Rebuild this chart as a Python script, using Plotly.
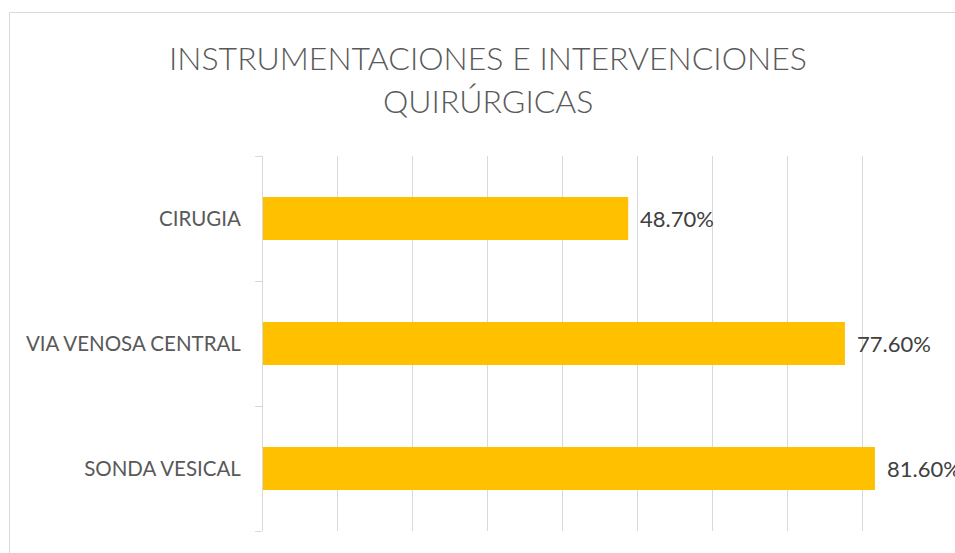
import plotly.graph_objects as go

categories = ["SONDA VESICAL", "VIA VENOSA CENTRAL", "CIRUGIA"]
values = [0.816, 0.776, 0.487]
title_lines = ["INSTRUMENTACIONES E INTERVENCIONES", "QUIRÚRGICAS"]

W, H = 955, 553
L, R, T, B = 263, 17, 156, 22
pw, ph = W - L - R, H - T - B

def px2paper_x(px):
    return (px - L) / pw

def py2paper_y(py):
    return (H - B - py) / ph

fig = go.Figure()
fig.add_trace(go.Bar(
    y=categories, x=values, orientation="h",
    marker=dict(color="#FFC000", line=dict(width=0)),
    hoverinfo="skip",
))

for c, v in zip(categories, values):
    fig.add_annotation(
        x=v, y=c, xref="x", yref="y", text=f"{v*100:.2f}%",
        showarrow=False, xanchor="left", yanchor="middle", xshift=10,
        font=dict(family="Lato", size=22, color="#404040"),
    )

# title
fig.add_annotation(x=px2paper_x(488), y=py2paper_y(57), xref="paper", yref="paper",
                   text=title_lines[0], showarrow=False, xanchor="center", yanchor="middle",
                   font=dict(family="Lato", size=32, color="#595959", weight=300))
fig.add_annotation(x=px2paper_x(488), y=py2paper_y(100), xref="paper", yref="paper",
                   text=title_lines[1], showarrow=False, xanchor="center", yanchor="middle",
                   font=dict(family="Lato", size=32, color="#595959", weight=300))

# chart-area border
fig.add_shape(type="rect", xref="paper", yref="paper",
              x0=px2paper_x(9.5), x1=px2paper_x(1000),
              y0=py2paper_y(600), y1=py2paper_y(12.5),
              line=dict(color="#D9D9D9", width=1), layer="below")

fig.update_layout(
    width=W, height=H,
    margin=dict(l=L, r=R, t=T, b=B),
    paper_bgcolor="white", plot_bgcolor="white",
    showlegend=False,
    bargap=0.655,
    xaxis=dict(range=[0, 0.9001], dtick=0.1, tick0=0, showticklabels=False,
               showgrid=True, gridcolor="#D9D9D9", gridwidth=1,
               zeroline=False, showline=False, ticks="", fixedrange=True),
    yaxis=dict(showline=True, linecolor="#D9D9D9", linewidth=1,
               ticks="outside", tickson="boundaries", ticklen=7, tickcolor="#D9D9D9",
               tickfont=dict(family="Lato", size=20.5, color="#595959"),
               ticklabelstandoff=17, showgrid=False, fixedrange=True),
)

fig.write_html("out.html", config={"displayModeBar": False},
               post_script="document.body.style.margin='0';document.body.style.overflow='hidden';")
